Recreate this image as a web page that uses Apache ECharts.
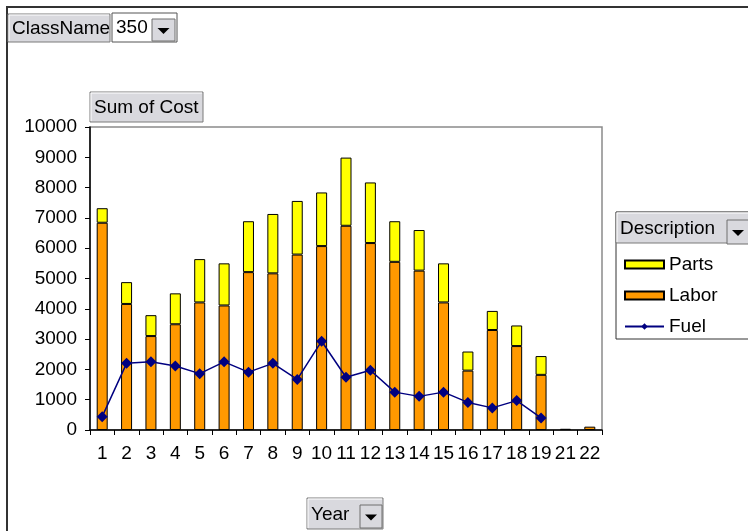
<!DOCTYPE html>
<html>
<head>
<meta charset="utf-8">
<title>Sum of Cost by Year</title>
<script src="https://cdn.jsdelivr.net/npm/echarts@6/dist/echarts.min.js"></script>
<style>
  html, body { margin: 0; padding: 0; background: #ffffff; }
  #chart { width: 748px; height: 531px; }
</style>
</head>
<body>
<div id="chart"></div>
<script>
// Cost per year for class 350
const years = ['1','2','3','4','5','6','7','8','9','10','11','12','13','14','15','16','17','18','19','21','22'];
const labor = [6840,4160,3100,3490,4210,4110,5210,5170,5790,6070,6740,6170,5550,5260,4210,1960,3300,2770,1820,40,110];
const parts = [480,720,690,1020,1430,1390,1680,1960,1770,1770,2250,2000,1340,1340,1290,630,630,680,620,null,null];
const fuel  = [440,2200,2250,2110,1860,2250,1910,2200,1670,2930,1740,1970,1250,1110,1250,910,730,970,400,null,null];
const yTicks = { min: 0, max: 10000, step: 1000 };

const FONT = 'Liberation Sans, Arial, sans-serif';
const BTN_FILL = '#d9d9de';

// A raised field button with a label, optionally followed by a drop-down arrow
function fieldButton(x, y, w, h, label, withArrow) {
  const els = [
    { type: 'rect', shape: { x: x, y: y, width: w, height: h },
      style: { fill: BTN_FILL, stroke: '#7a7a7a', lineWidth: 1 } },
    { type: 'polyline', shape: { points: [[x + 1, y + h - 1], [x + 1, y + 1], [x + w - 1, y + 1]] },
      style: { stroke: '#ffffff', lineWidth: 1, fill: null } },
    { type: 'text', style: { x: x + 4, y: y + h / 2 + 1, text: label, font: '19px ' + FONT,
      fill: '#000', textVerticalAlign: 'middle', textAlign: 'left' } }
  ];
  if (withArrow) els.push(...dropArrow(x + w - 23, y + 7, 22, h - 8));
  return els;
}

function dropArrow(x, y, w, h) {
  const cx = x + w / 2, cy = y + h / 2 + 1;
  return [
    { type: 'rect', shape: { x: x, y: y, width: w, height: h },
      style: { fill: BTN_FILL, stroke: '#6e6e6e', lineWidth: 1 } },
    { type: 'polygon', shape: { points: [[cx - 6, cy - 3], [cx + 6, cy - 3], [cx, cy + 3]] },
      style: { fill: '#000' } }
  ];
}

const graphics = [
  // outer frame lines
  { type: 'line', shape: { x1: 6, y1: 7, x2: 748, y2: 7 }, style: { stroke: '#333', lineWidth: 2 } },
  { type: 'line', shape: { x1: 7, y1: 7, x2: 7, y2: 531 }, style: { stroke: '#333', lineWidth: 2 } },
  // page field
  ...fieldButton(8, 14, 102, 28, 'ClassName', false),
  { type: 'rect', shape: { x: 112, y: 13, width: 65, height: 29 }, style: { fill: '#fff', stroke: '#555', lineWidth: 1 } },
  { type: 'text', style: { x: 116, y: 28, text: '350', font: '19px ' + FONT, fill: '#000', textVerticalAlign: 'middle' } },
  ...dropArrow(152, 19, 23, 22),
  // data field
  ...fieldButton(90, 92, 113, 30, 'Sum of Cost', false),
  // legend box and series field header
  { type: 'rect', shape: { x: 616, y: 212, width: 140, height: 127 }, style: { fill: '#fff', stroke: '#333', lineWidth: 1 } },
  ...fieldButton(616, 212, 140, 31, 'Description', false),
  ...dropArrow(727, 220, 22, 24),
  // category field
  ...fieldButton(307, 498, 76, 31, 'Year', true)
];

const chart = echarts.init(document.getElementById('chart'), null, { renderer: 'canvas' });
chart.setOption({
  animation: false,
  backgroundColor: '#ffffff',
  textStyle: { fontFamily: FONT },
  grid: { left: 90, right: 146, top: 127, bottom: 101, show: true,
          borderColor: '#8a8a8a', borderWidth: 1.5, backgroundColor: 'transparent' },
  legend: {
    orient: 'vertical', left: 624, top: 255, padding: 0,
    itemWidth: 39, itemHeight: 8, itemGap: 12,
    textStyle: { fontSize: 19, fontFamily: FONT, color: '#000' },
    data: [{ name: 'Parts', icon: 'rect' }, { name: 'Labor', icon: 'rect' }, { name: 'Fuel' }],
    selectedMode: false
  },
  xAxis: {
    type: 'category', data: years, boundaryGap: true,
    axisLine: { lineStyle: { color: '#000', width: 1.5 } },
    axisTick: { show: true, length: 5, alignWithLabel: false, lineStyle: { color: '#000' } },
    axisLabel: { interval: 0, margin: 14, fontSize: 19, color: '#000', fontFamily: FONT }
  },
  yAxis: {
    type: 'value', min: yTicks.min, max: yTicks.max, interval: yTicks.step,
    splitLine: { show: false },
    axisLine: { show: true, lineStyle: { color: '#000', width: 1.5 } },
    axisTick: { show: true, length: 5, lineStyle: { color: '#000' } },
    axisLabel: { margin: 13, fontSize: 19, color: '#000', fontFamily: FONT,
                 formatter: function (v) { return String(v); } }
  },
  series: [
    { name: 'Labor', type: 'bar', stack: 'cost', data: labor, barWidth: 11,
      itemStyle: { color: '#ff9900', borderColor: '#000', borderWidth: 1 } },
    { name: 'Parts', type: 'bar', stack: 'cost', data: parts, barWidth: 11,
      itemStyle: { color: '#ffff00', borderColor: '#000', borderWidth: 1 } },
    { name: 'Fuel', type: 'line', data: fuel, connectNulls: false,
      symbol: 'diamond', symbolSize: 11, showAllSymbol: true,
      lineStyle: { color: '#000080', width: 1.5 },
      itemStyle: { color: '#000080' } }
  ],
  graphic: graphics
});
</script>
</body>
</html>
